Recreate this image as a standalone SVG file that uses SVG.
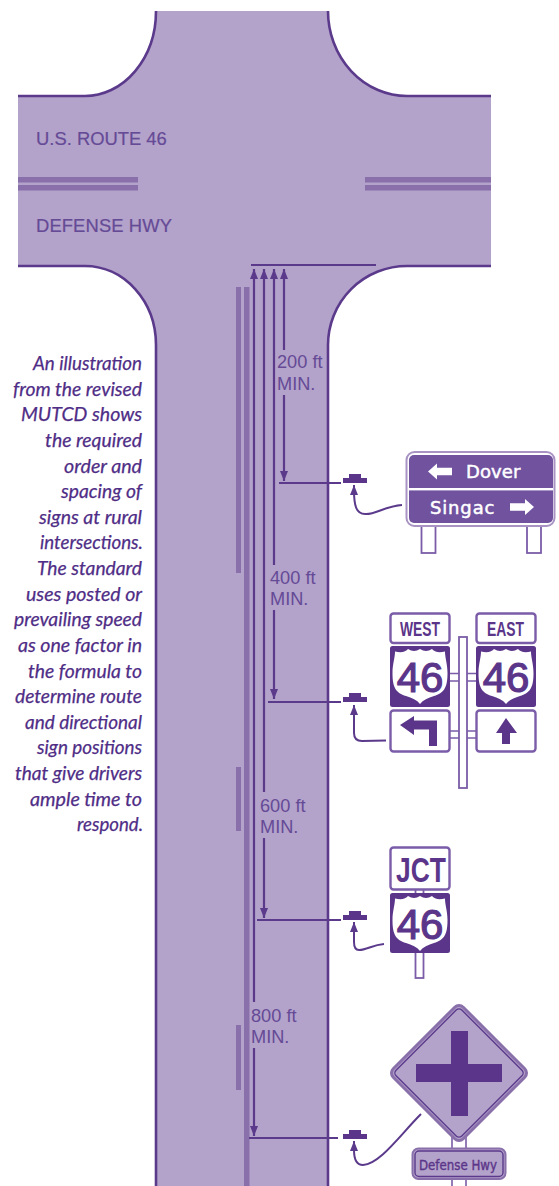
<svg xmlns="http://www.w3.org/2000/svg" width="559" height="1186" viewBox="0 0 559 1186">
<style>
.edge{fill:none;stroke:#5b3a8c;stroke-width:2.6}
.strip{fill:#8a70aa}
.dim{fill:none;stroke:#5b3a8c;stroke-width:2.2}
.lbl{font-family:"Liberation Sans",Arial,sans-serif;font-size:18.2px;fill:#654a96}
.road{font-family:"Liberation Sans",Arial,sans-serif;font-size:18.4px;fill:#654a96;stroke:#654a96;stroke-width:.2}
.cap{font-family:Lato,"Noto Sans",sans-serif;font-style:italic;font-size:19.5px;fill:#4f2d86;stroke:#4f2d86;stroke-width:.25;text-anchor:end}
.call{fill:none;stroke:#5b3a8c;stroke-width:2}
.box{fill:#fff;stroke:#7a5ca8;stroke-width:2.4}
.panel{fill:#5b3589}
.sh{fill:#fff}
.num{font-family:"Liberation Sans",Arial,sans-serif;font-size:42px;fill:#5b3589;stroke:#5b3589;stroke-width:1.2;text-anchor:middle}
.hd{font-family:"Liberation Sans",Arial,sans-serif;font-weight:bold;fill:#5b3589;text-anchor:middle}
.gs{font-family:"DejaVu Sans",sans-serif;font-size:18px;fill:#fff;stroke:#fff;stroke-width:.5;letter-spacing:1.6px}
.pst{fill:#fff;stroke:#7a5ca8;stroke-width:1.8}
.ink{fill:#5b3589}
</style>
<defs>
<marker id="ah" markerUnits="userSpaceOnUse" markerWidth="10" markerHeight="8" refX="10" refY="4" orient="auto-start-reverse" viewBox="0 0 10 8"><path d="M10,4 L0,0 L0,8 Z" fill="#5b3a8c"/></marker>
<path id="shield" d="M5,5.5 C11,7 16,6 18,3 C22,5.5 26,5.5 30,3 C34,5.5 38,5.5 42,3 C44,6 49,7 55,5.5 C55,12 57.5,18 57.5,27 C57.5,42 54,47 44,50 C38,52 33,54 30,58 C27,54 22,52 16,50 C6,47 2.5,42 2.5,27 C2.5,18 5,12 5,5.5 Z"/>
<g id="marker-post"><rect x="349" y="0" width="12" height="4.5" class="ink"/><rect x="343" y="4" width="24" height="5" class="ink"/></g>
</defs>

<g id="intersection">
<path d="M156,11 H328 A79,85 0 0 0 407,96 H491 V266 H407 A79,79 0 0 0 328,345 V1186 H156 V345 A71,79 0 0 0 85,266 H18 V96 H85 A71,85 0 0 0 156,11 Z" fill="#b3a2ca"/>
<path class="edge" d="M156,11 A71,85 0 0 1 85,96 H18"/>
<path class="edge" d="M328,11 A79,85 0 0 0 407,96 H491"/>
<path class="edge" d="M18,266 H85 A71,79 0 0 1 156,345 V1186"/>
<path class="edge" d="M491,266 H407 A79,79 0 0 0 328,345 V1186"/>
<rect class="strip" x="18" y="177" width="120" height="5.5"/>
<rect class="strip" x="18" y="185" width="120" height="5.5"/>
<rect class="strip" x="365" y="177" width="126" height="5.5"/>
<rect class="strip" x="365" y="185" width="126" height="5.5"/>
<rect class="strip" x="236" y="287" width="5" height="286"/>
<rect class="strip" x="236" y="767" width="5" height="64"/>
<rect class="strip" x="236" y="1025" width="5" height="65"/>
<rect class="strip" x="244" y="287" width="5.5" height="899"/>
<text class="road" x="36" y="145">U.S. ROUTE 46</text>
<text class="road" x="36" y="232" textLength="136">DEFENSE HWY</text>
</g>

<g id="connectors">
<path class="dim" d="M251,265 H376"/>
<path class="dim" marker-start="url(#ah)" d="M284,269 V350"/>
<path class="dim" marker-end="url(#ah)" d="M284,395 V481"/>
<path class="dim" d="M279,483 H341"/>
<path class="dim" marker-start="url(#ah)" d="M274,269 V565"/>
<path class="dim" marker-end="url(#ah)" d="M274,610 V699"/>
<path class="dim" d="M268,702 H341"/>
<path class="dim" marker-start="url(#ah)" d="M264,269 V792"/>
<path class="dim" marker-end="url(#ah)" d="M264,838 V918"/>
<path class="dim" d="M257,920 H341"/>
<path class="dim" marker-start="url(#ah)" d="M254,269 V1002"/>
<path class="dim" marker-end="url(#ah)" d="M254,1048 V1136"/>
<path class="dim" d="M249,1138 H338"/>
<path class="call" marker-start="url(#ah)" d="M354,485 V490 C354,505 356,514 365,514 C375,515 385,506 402,505"/>
<path class="call" marker-start="url(#ah)" d="M354,705 V733 C354,739 357,741 362,741 L386,740.5"/>
<path class="call" marker-start="url(#ah)" d="M354,922 V942 C354,948 356,950 359,950 C367,950 372,945 384,944"/>
<path class="call" marker-start="url(#ah)" d="M354,1141 V1150 C354,1162 358,1165 363,1165 C380,1164 400,1135 421,1114"/>
</g>

<g id="dim-labels">
<text class="lbl" x="277" y="368">200 ft</text><text class="lbl" x="277" y="390">MIN.</text>
<text class="lbl" x="270" y="584">400 ft</text><text class="lbl" x="270" y="605">MIN.</text>
<text class="lbl" x="260" y="812">600 ft</text><text class="lbl" x="260" y="833">MIN.</text>
<text class="lbl" x="251" y="1022">800 ft</text><text class="lbl" x="251" y="1043">MIN.</text>
</g>

<g id="caption">
<text class="cap" x="142" y="370" textLength="109" lengthAdjust="spacingAndGlyphs">An illustration</text>
<text class="cap" x="142" y="396" textLength="129" lengthAdjust="spacingAndGlyphs">from the revised</text>
<text class="cap" x="142" y="421" textLength="121" lengthAdjust="spacingAndGlyphs">MUTCD shows</text>
<text class="cap" x="142" y="447" textLength="97" lengthAdjust="spacingAndGlyphs">the required</text>
<text class="cap" x="142" y="473" textLength="78" lengthAdjust="spacingAndGlyphs">order and</text>
<text class="cap" x="142" y="498" textLength="81" lengthAdjust="spacingAndGlyphs">spacing of</text>
<text class="cap" x="142" y="524" textLength="103" lengthAdjust="spacingAndGlyphs">signs at rural</text>
<text class="cap" x="143" y="549" textLength="103" lengthAdjust="spacingAndGlyphs">intersections.</text>
<text class="cap" x="142" y="575" textLength="105" lengthAdjust="spacingAndGlyphs">The standard</text>
<text class="cap" x="142" y="601" textLength="116" lengthAdjust="spacingAndGlyphs">uses posted or</text>
<text class="cap" x="142" y="626" textLength="128" lengthAdjust="spacingAndGlyphs">prevailing speed</text>
<text class="cap" x="142" y="652" textLength="124" lengthAdjust="spacingAndGlyphs">as one factor in</text>
<text class="cap" x="142" y="678" textLength="114" lengthAdjust="spacingAndGlyphs">the formula to</text>
<text class="cap" x="142" y="703" textLength="127" lengthAdjust="spacingAndGlyphs">determine route</text>
<text class="cap" x="142" y="729" textLength="117" lengthAdjust="spacingAndGlyphs">and directional</text>
<text class="cap" x="142" y="754" textLength="105" lengthAdjust="spacingAndGlyphs">sign positions</text>
<text class="cap" x="142" y="780" textLength="127" lengthAdjust="spacingAndGlyphs">that give drivers</text>
<text class="cap" x="142" y="806" textLength="112" lengthAdjust="spacingAndGlyphs">ample time to</text>
<text class="cap" x="143" y="831" textLength="66" lengthAdjust="spacingAndGlyphs">respond.</text>
</g>

<g id="sign-guide">
<use href="#marker-post" y="474"/>
<rect class="pst" x="421.5" y="526" width="14" height="27"/>
<rect class="pst" x="527" y="526" width="14" height="27"/>
<rect x="406.5" y="452" width="148" height="74" rx="8" fill="#fff" stroke="#a893c4" stroke-width="2"/>
<rect x="409" y="455" width="144" height="68" rx="5" fill="#70529f"/>
<rect x="409" y="488" width="144" height="2.4" fill="#fff"/>
<path fill="#fff" d="M428,471.5 L437,463.5 V467.8 H452 V475.2 H437 V479.5 Z"/>
<path fill="#fff" d="M534,507 L525,499 V503.3 H510 V510.7 H525 V515 Z"/>
<text class="gs" x="466" y="478" textLength="56">Dover</text>
<text class="gs" x="430" y="514" textLength="66">Singac</text>
</g>

<g id="sign-route-assembly">
<use href="#marker-post" y="693"/>
<path d="M450,673.5 H476 M450,681 H476 M450,731 H476 M450,738 H476" fill="none" stroke="#7a5ca8" stroke-width="1.6"/>
<rect class="pst" x="459" y="637" width="8" height="151"/>
<rect class="box" x="390.5" y="613.5" width="59" height="29.5" rx="3"/>
<rect class="box" x="476.5" y="613.5" width="59" height="29.5" rx="3"/>
<text class="hd" x="420" y="636" font-size="21" textLength="40" lengthAdjust="spacingAndGlyphs">WEST</text>
<text class="hd" x="505.5" y="636" font-size="21" textLength="37" lengthAdjust="spacingAndGlyphs">EAST</text>
<rect class="panel" x="390" y="646" width="60" height="61" rx="2.5"/>
<rect class="panel" x="476" y="646" width="60" height="61" rx="2.5"/>
<use href="#shield" class="sh" x="390" y="646"/>
<use href="#shield" class="sh" x="476" y="646"/>
<text class="num" x="420" y="692">46</text>
<text class="num" x="506" y="692">46</text>
<rect class="box" x="390.5" y="710.5" width="59" height="41" rx="3"/>
<rect class="box" x="476.5" y="710.5" width="59" height="41" rx="3"/>
<path class="ink" d="M400,725 L414,716 V720.5 H437 V746 H429 V729.5 H414 V735 Z"/>
<path class="ink" d="M506,718 L517,733 H510 V744 H502 V733 H496 Z"/>
</g>

<g id="sign-junction">
<use href="#marker-post" y="911"/>
<rect class="pst" x="415.5" y="886" width="8" height="92"/>
<rect class="box" x="390.5" y="847.5" width="59" height="42" rx="3"/>
<text class="hd" x="421" y="882" font-size="35" textLength="50" lengthAdjust="spacingAndGlyphs">JCT</text>
<rect class="panel" x="390" y="893" width="60" height="60" rx="2.5"/>
<use href="#shield" class="sh" x="390" y="893"/>
<text class="num" x="420" y="939">46</text>
</g>

<g id="sign-warning">
<use href="#marker-post" y="1130"/>
<path d="M452,1135 V1186 M466,1135 V1186" fill="none" stroke="#7a5ca8" stroke-width="1.6"/>
<rect x="-49.5" y="-49.5" width="99" height="99" rx="6" transform="translate(459 1073) rotate(45)" fill="#b3a2ca" stroke="#8a70aa" stroke-width="3"/>
<rect x="-46.5" y="-46.5" width="93" height="93" rx="4" transform="translate(459 1073) rotate(45)" fill="none" stroke="#5b3a8c" stroke-width="1.4"/>
<path class="ink" d="M451,1031 H468 V1064 H502 V1082 H468 V1116 H451 V1082 H416 V1064 H451 Z"/>
<rect x="412.5" y="1148.5" width="93" height="30.5" rx="6" fill="#b3a2ca" stroke="#8a70aa" stroke-width="2"/>
<rect x="415" y="1151" width="88" height="25.5" rx="4" fill="none" stroke="#5b3a8c" stroke-width="1.4"/>
<text x="458" y="1170" text-anchor="middle" font-family="DejaVu Sans, sans-serif" font-size="14" fill="#5b3589" stroke="#5b3589" stroke-width=".4" textLength="78" lengthAdjust="spacingAndGlyphs">Defense Hwy</text>
</g>
</svg>
